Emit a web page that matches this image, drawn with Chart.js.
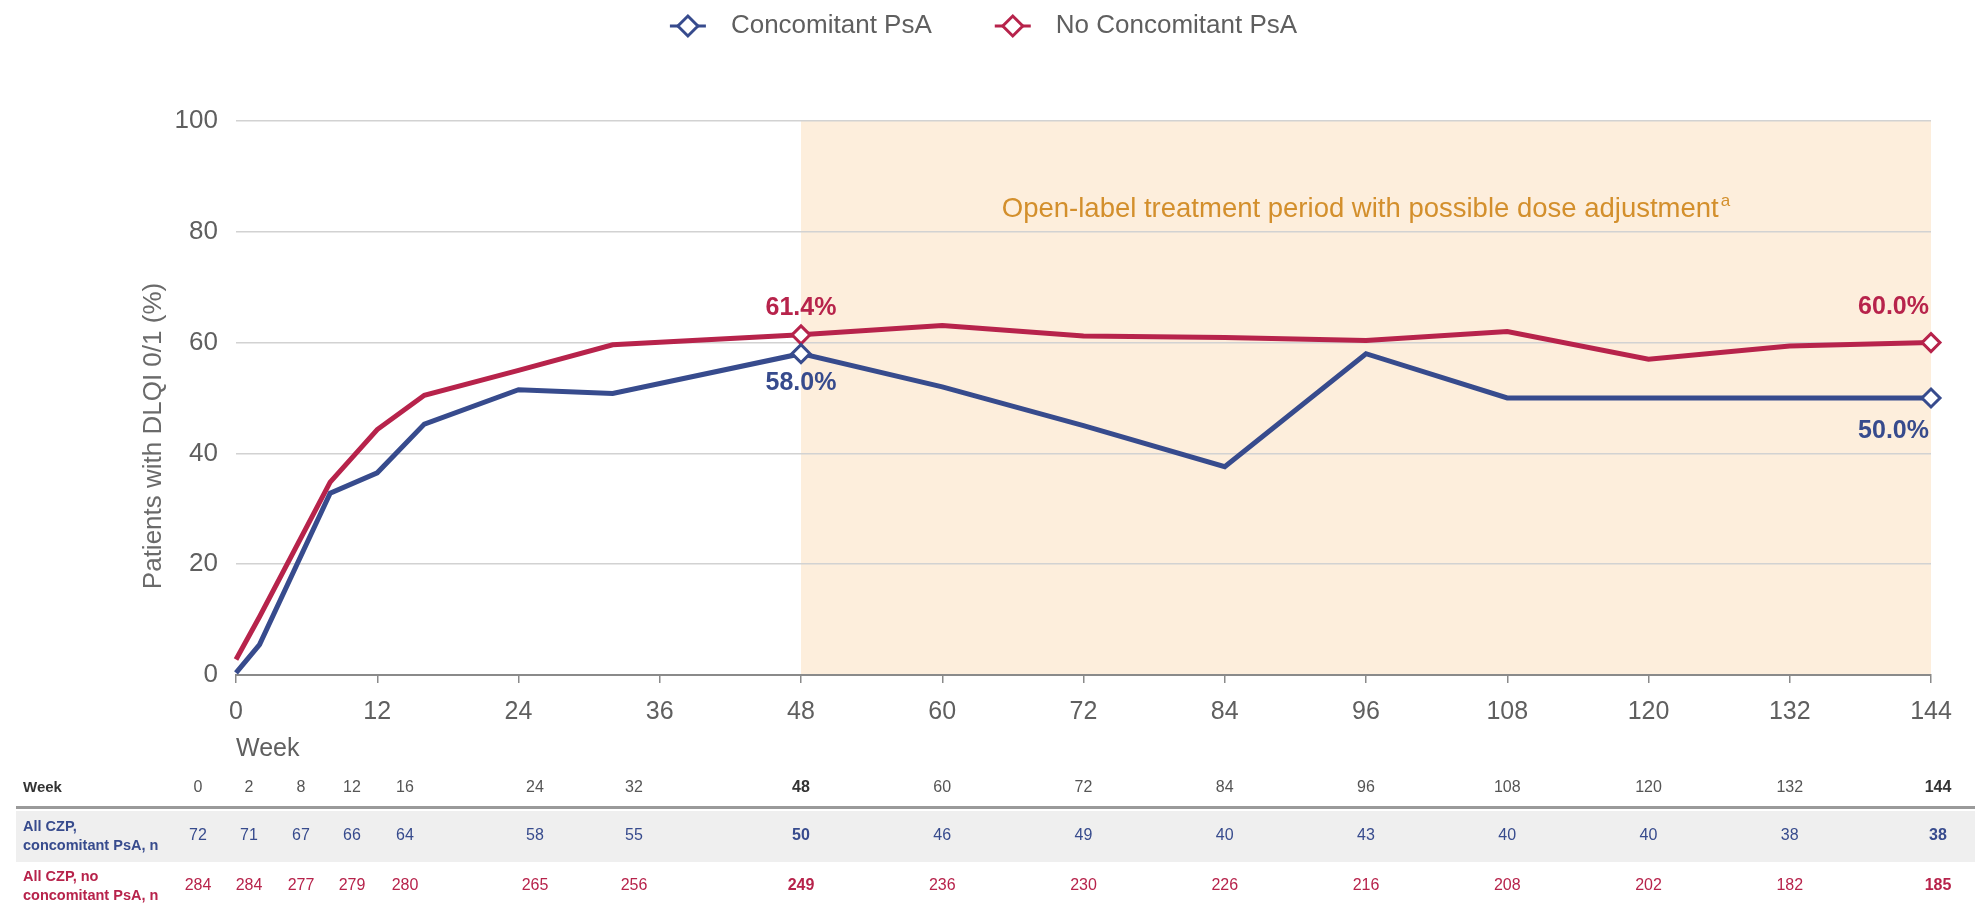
<!DOCTYPE html>
<html>
<head>
<meta charset="utf-8">
<script src="https://cdn.jsdelivr.net/npm/chart.js@4.4.0/dist/chart.umd.min.js"></script>
<style>
body { margin: 0; background: #fff; }
#wrap { width: 1975px; height: 912px; position: relative; }
</style>
</head>
<body>
<div id="wrap"><canvas id="chart"></canvas></div>
<script>
// data
var weeks = [0, 2, 8, 12, 16, 24, 32, 48, 60, 72, 84, 96, 108, 120, 132, 144];
var concomitant = [0.4, 5.5, 32.8, 36.5, 45.3, 51.5, 50.8, 58.0, 52.0, 45.0, 37.6, 58.0, 50.0, 50.0, 50.0, 50.0];
var noConcomitant = [2.8, 10.5, 34.8, 44.3, 50.5, 55.0, 59.6, 61.4, 63.1, 61.2, 60.9, 60.4, 62.0, 57.0, 59.4, 60.0];
var nConcomitant = [72, 71, 67, 66, 64, 58, 55, 50, 46, 49, 40, 43, 40, 40, 38, 38];
var nNoConcomitant = [284, 284, 277, 279, 280, 265, 256, 249, 236, 230, 226, 216, 208, 202, 182, 185];
var seriesNames = ['Concomitant PsA', 'No Concomitant PsA'];
var rowLabels = [['All CZP,', 'concomitant PsA, n'], ['All CZP, no', 'concomitant PsA, n']];
var labelWeeks = [48, 144];          // weeks with a marker and a value label
var openLabel = [48, 144];           // shaded open-label period
var openLabelText = 'Open-label treatment period with possible dose adjustment';
var yTitle = 'Patients with DLQI 0/1 (%)';

var BLUE = '#374b8d', RED = '#b7234b', GRAY = '#5f5f5f';
var FONT = "'Liberation Sans', Arial, sans-serif";

// table columns before week 48 are squeezed, not on the week scale
var tableEarlyX = [198, 249, 301, 352, 405, 535, 634];
// value label offsets (px) per dataset, per labelled week
var labelDy = [[29, 33], [-27, -35]];

function points(values) {
	return weeks.map(function (w, i) { return { x: w, y: values[i] }; });
}

function markerRadius(ctx) {
	return labelWeeks.indexOf(weeks[ctx.dataIndex]) >= 0 ? 9 : 0;
}

var extras = {
	id: 'extras',
	beforeDraw: function (chart) {
		var ctx = chart.ctx, x = chart.scales.x, y = chart.scales.y;
		var l = x.getPixelForValue(openLabel[0]), r = x.getPixelForValue(openLabel[1]);
		var t = y.getPixelForValue(100), b = y.getPixelForValue(0);
		ctx.save();
		ctx.fillStyle = '#fdeedc';
		ctx.fillRect(l, t, r - l, b - t);
		// annotation text + superscript a
		ctx.font = '27.5px ' + FONT;
		ctx.fillStyle = '#d38f2c';
		ctx.textBaseline = 'middle';
		var w = ctx.measureText(openLabelText).width;
		ctx.font = '17px ' + FONT;
		var ws = ctx.measureText('a').width;
		var sx = (l + r) / 2 - (w + ws + 2) / 2, sy = t + 88;
		ctx.font = '27.5px ' + FONT;
		ctx.textAlign = 'left';
		ctx.fillText(openLabelText, sx, sy);
		ctx.font = '17px ' + FONT;
		ctx.fillText('a', sx + w + 2, sy - 8);
		ctx.restore();
	},
	afterDatasetsDraw: function (chart) {
		var ctx = chart.ctx;
		ctx.save();
		ctx.font = 'bold 25px ' + FONT;
		ctx.textBaseline = 'middle';
		chart.data.datasets.forEach(function (ds, di) {
			var meta = chart.getDatasetMeta(di);
			labelWeeks.forEach(function (wk, k) {
				var idx = weeks.indexOf(wk);
				var p = meta.data[idx];
				var last = k == labelWeeks.length - 1;
				ctx.fillStyle = ds.borderColor;
				ctx.textAlign = last ? 'right' : 'center';
				ctx.fillText(ds.data[idx].y.toFixed(1) + '%', last ? p.x - 2 : p.x, p.y + labelDy[di][k]);
			});
		});
		ctx.restore();
	},
	afterDraw: function (chart) {
		var ctx = chart.ctx, x = chart.scales.x;
		ctx.save();
		// y axis title, sits a bit below the middle of the axis
		ctx.save();
		ctx.translate(154, 436);
		ctx.rotate(-Math.PI / 2);
		ctx.font = '26px ' + FONT;
		ctx.fillStyle = '#6a6a6a';
		ctx.textAlign = 'center';
		ctx.textBaseline = 'middle';
		ctx.fillText(yTitle, 0, 0);
		ctx.restore();

		// legend
		ctx.font = '26px ' + FONT;
		ctx.textBaseline = 'middle';
		var items = chart.data.datasets.map(function (ds) {
			return { text: ds.label, color: ds.borderColor, w: ctx.measureText(ds.label).width };
		});
		var total = 0;
		items.forEach(function (it, i) { total += 36 + 25 + it.w + (i ? 63 : 0); });
		var lx = chart.width / 2 - total / 2 - 4, ly = 26;
		items.forEach(function (it) {
			ctx.strokeStyle = it.color;
			ctx.lineWidth = 3;
			ctx.beginPath(); ctx.moveTo(lx, ly); ctx.lineTo(lx + 36, ly); ctx.stroke();
			ctx.beginPath();
			ctx.moveTo(lx + 18, ly - 10); ctx.lineTo(lx + 28, ly); ctx.lineTo(lx + 18, ly + 10); ctx.lineTo(lx + 8, ly); ctx.closePath();
			ctx.fillStyle = '#fff'; ctx.fill(); ctx.stroke();
			ctx.fillStyle = GRAY;
			ctx.textAlign = 'left';
			ctx.fillText(it.text, lx + 61, ly);
			lx += 36 + 25 + it.w + 63;
		});

		// table of n
		var colX = weeks.map(function (w, i) {
			return i < tableEarlyX.length ? tableEarlyX[i] : x.getPixelForValue(w);
		});
		colX[colX.length - 1] += 7;
		ctx.fillStyle = '#efefef';
		ctx.fillRect(16, 811, chart.width - 16, 51);
		ctx.fillStyle = '#9a9a9a';
		ctx.fillRect(16, 806, chart.width - 16, 3);
		ctx.textBaseline = 'middle';
		ctx.textAlign = 'left';
		ctx.font = 'bold 15px ' + FONT;
		ctx.fillStyle = '#333';
		ctx.fillText('Week', 23, 788);
		var rows = [{ y: 836, vals: nConcomitant, color: BLUE }, { y: 886, vals: nNoConcomitant, color: RED }];
		rows.forEach(function (row, r) {
			ctx.textAlign = 'left';
			ctx.font = 'bold 14.5px ' + FONT;
			ctx.fillStyle = row.color;
			ctx.fillText(rowLabels[r][0], 23, row.y - 9);
			ctx.fillText(rowLabels[r][1], 23, row.y + 10);
		});
		ctx.textAlign = 'center';
		weeks.forEach(function (w, i) {
			var bold = labelWeeks.indexOf(w) >= 0;
			ctx.font = (bold ? 'bold ' : '') + '16px ' + FONT;
			ctx.fillStyle = bold ? '#333' : '#555';
			ctx.fillText(String(w), colX[i], 788);
			rows.forEach(function (row) {
				ctx.fillStyle = row.color;
				ctx.fillText(String(row.vals[i]), colX[i], row.y);
			});
		});
		ctx.restore();
	}
};

var chart = new Chart(document.getElementById('chart').getContext('2d'), {
	type: 'line',
	data: {
		datasets: [{
			label: seriesNames[0],
			data: points(concomitant),
			borderColor: BLUE,
			backgroundColor: BLUE
		}, {
			label: seriesNames[1],
			data: points(noConcomitant),
			borderColor: RED,
			backgroundColor: RED
		}]
	},
	options: {
		responsive: true,
		maintainAspectRatio: false,
		animation: false,
		layout: { padding: { left: 0, right: 44, top: 121, bottom: 148 } },
		datasets: {
			line: {
				borderWidth: 5,
				tension: 0,
				clip: false,
				pointStyle: 'rectRot',
				pointRadius: markerRadius,
				pointHoverRadius: markerRadius,
				pointBackgroundColor: '#fff',
				pointBorderWidth: 3
			}
		},
		plugins: { legend: { display: false }, tooltip: { enabled: false } },
		scales: {
			x: {
				type: 'linear', min: 0, max: 144,
				ticks: { stepSize: 12, color: GRAY, font: { family: FONT, size: 25 }, padding: 14, maxRotation: 0 },
				grid: { drawOnChartArea: false, drawTicks: true, tickLength: 8, color: '#8a8a8a', lineWidth: 1.5 },
				border: { color: '#8a8a8a', width: 2 },
				title: { display: true, text: 'Week', align: 'start', color: GRAY, font: { family: FONT, size: 25 }, padding: { top: 7, bottom: 0 } },
				afterFit: function (s) { s.height = 89; }
			},
			y: {
				min: 0, max: 100,
				ticks: { stepSize: 20, color: GRAY, font: { family: FONT, size: 26 }, padding: 18 },
				grid: { color: '#d2d2d2', lineWidth: 1.5, drawTicks: false },
				border: { display: false },
				afterFit: function (s) { s.width = 236; }
			}
		}
	},
	plugins: [extras]
});
</script>
</body>
</html>
